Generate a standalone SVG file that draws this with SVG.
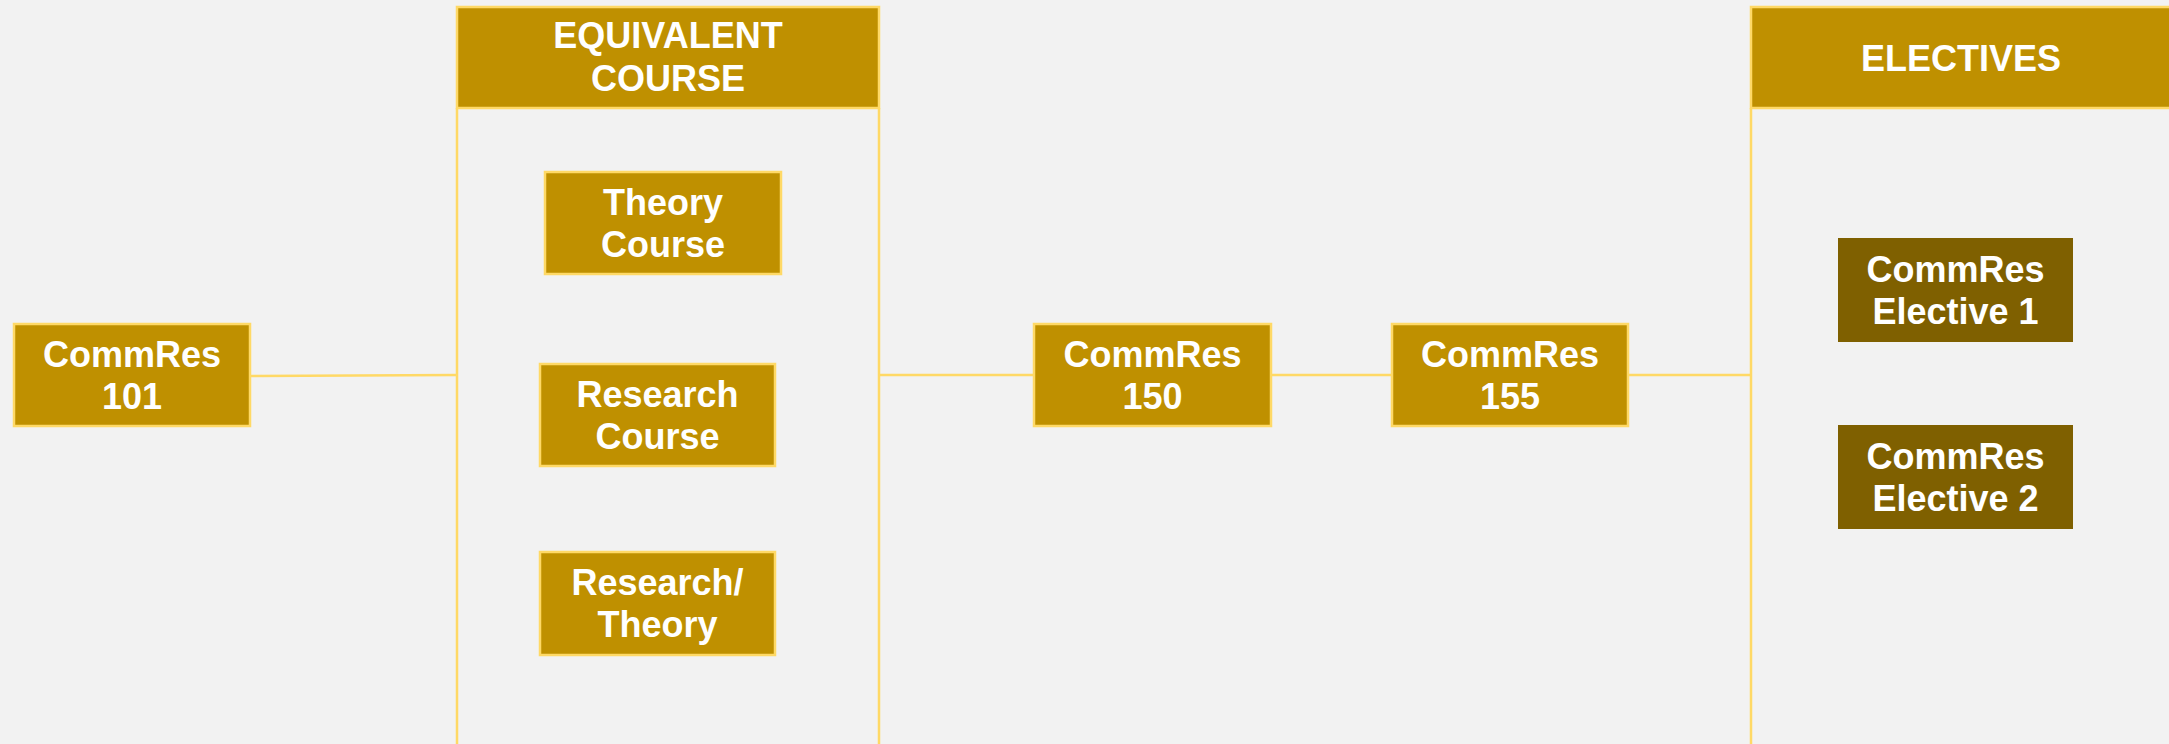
<svg xmlns="http://www.w3.org/2000/svg" width="2169" height="744" viewBox="0 0 2169 744">
<style>
.bg{fill:#F2F2F2}
.box{fill:#BF9000;stroke:#FFD966;stroke-width:2.5}
.dark{fill:#7F6000}
.col{fill:none;stroke:#FFD966;stroke-width:2.5}
.conn{fill:none;stroke:#FFD966;stroke-width:2.5}
text{font-family:"Liberation Sans",Arial,Helvetica,sans-serif;font-weight:bold;font-size:36px;fill:#FFFFFF;text-anchor:middle}
</style>
<rect class="bg" x="0" y="0" width="2169" height="744"/>
<g id="connectors">
<path class="conn" d="M250,376 L457,375"/>
<path class="conn" d="M879,375 L1033,375"/>
<path class="conn" d="M1271,375 L1391,375"/>
<path class="conn" d="M1628,375 L1751,375"/>
</g>
<g id="equivalent-column">
<path class="col" d="M457,108 V746 M879,108 V746"/>
<rect class="box" x="457" y="7" width="422" height="101"/>
<text x="668" y="48">EQUIVALENT</text>
<text x="668" y="91">COURSE</text>
</g>
<g id="electives-column">
<path class="col" d="M1751,108 V746"/>
<rect class="box" x="1751" y="7" width="430" height="101"/>
<text x="1961" y="71">ELECTIVES</text>
</g>
<g id="commres101">
<rect class="box" x="14" y="324" width="236" height="102"/>
<text x="132" y="367">CommRes</text>
<text x="132" y="409">101</text>
</g>
<g id="theory-course">
<rect class="box" x="545" y="172" width="236" height="102"/>
<text x="663" y="215">Theory</text>
<text x="663" y="257">Course</text>
</g>
<g id="research-course">
<rect class="box" x="540" y="364" width="235" height="102"/>
<text x="657.5" y="407">Research</text>
<text x="657.5" y="449">Course</text>
</g>
<g id="research-theory">
<rect class="box" x="540" y="552" width="235" height="103"/>
<text x="657.5" y="595">Research/</text>
<text x="657.5" y="637">Theory</text>
</g>
<g id="commres150">
<rect class="box" x="1034" y="324" width="237" height="102"/>
<text x="1152.5" y="367">CommRes</text>
<text x="1152.5" y="409">150</text>
</g>
<g id="commres155">
<rect class="box" x="1392" y="324" width="236" height="102"/>
<text x="1510" y="367">CommRes</text>
<text x="1510" y="409">155</text>
</g>
<g id="elective1">
<rect class="dark" x="1838" y="238" width="235" height="104"/>
<text x="1955.5" y="282">CommRes</text>
<text x="1955.5" y="324">Elective 1</text>
</g>
<g id="elective2">
<rect class="dark" x="1838" y="425" width="235" height="104"/>
<text x="1955.5" y="469">CommRes</text>
<text x="1955.5" y="511">Elective 2</text>
</g>
</svg>
